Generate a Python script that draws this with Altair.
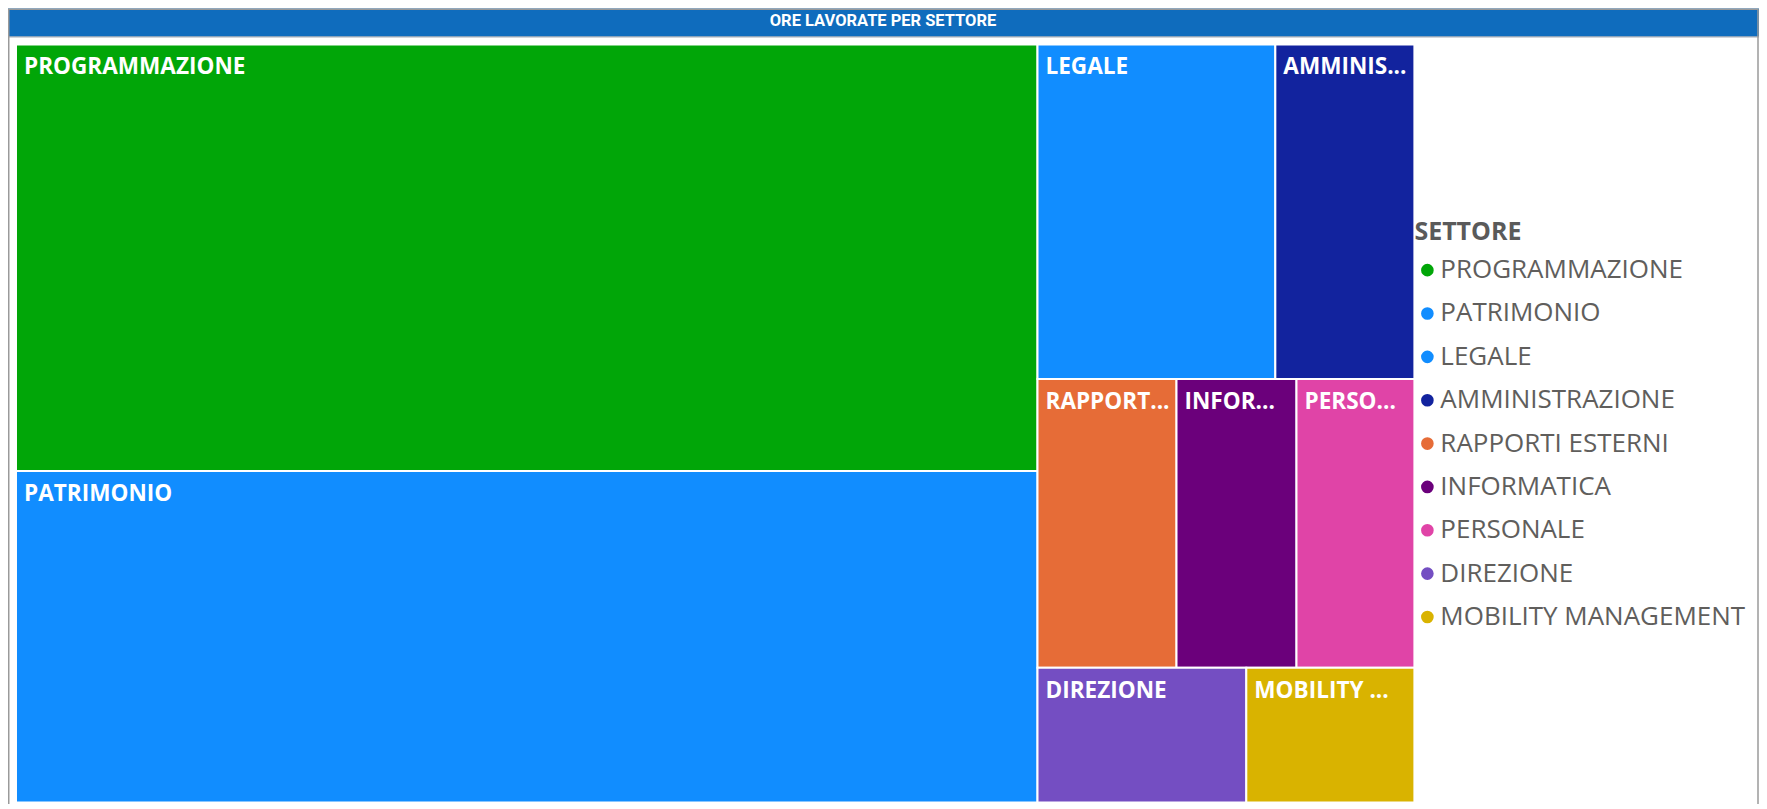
import altair as alt
import pandas as pd

# ---- data -------------------------------------------------------------
settori = ["PROGRAMMAZIONE", "PATRIMONIO", "LEGALE", "AMMINISTRAZIONE",
           "RAPPORTI ESTERNI", "INFORMATICA", "PERSONALE", "DIREZIONE",
           "MOBILITY MANAGEMENT"]
ore = [4364, 3393, 797, 466, 402, 347, 341, 282, 227]
colori = ["#01A608", "#118DFF", "#118DFF", "#12239E", "#E66C37",
          "#6B007B", "#E044A7", "#744EC2", "#D9B300"]
titolo = "ORE LAVORATE PER SETTORE"
titolo_legenda = "SETTORE"

# ---- layout constants -------------------------------------------------
CW, CH = 1753, 796          # whole chart
TW, TH = 1400, 759          # treemap extent (layout units = px)
TX, TY = 8, 36              # treemap offset inside chart


def squarify(values, x0, y0, x1, y1, ratio=(1 + 5 ** 0.5) / 2):
    """d3-style squarified treemap; the final row picks the squarer direction."""
    rects = [None] * len(values)
    n = len(values)
    i0 = 0
    value = float(sum(values))
    while i0 < n:
        dx, dy = x1 - x0, y1 - y0
        i1 = i0
        s = values[i1]
        i1 += 1
        mn = mx = s
        alpha = max(dy / dx, dx / dy) / (value * ratio)
        beta = s * s * alpha
        minr = max(mx / beta, beta / mn)
        while i1 < n:
            v = values[i1]
            s2 = s + v
            mn2, mx2 = min(mn, v), max(mx, v)
            beta = s2 * s2 * alpha
            nr = max(mx2 / beta, beta / mn2)
            if nr > minr:
                break
            s, mn, mx, minr = s2, mn2, mx2, nr
            i1 += 1
        row = list(range(i0, i1))
        last = i1 == n
        dice = dx < dy
        if last:
            def worst(d):
                out = 0
                for i in row:
                    if d:
                        w = dx * values[i] / s
                        out = max(out, w / dy, dy / w)
                    else:
                        h = dy * values[i] / s
                        out = max(out, h / dx, dx / h)
                return out
            dice = worst(True) <= worst(False)
        if dice:
            h = dy if last else dy * s / value
            cx = x0
            for i in row:
                w = dx * values[i] / s
                rects[i] = (cx, y0, cx + w, y0 + h)
                cx += w
            y0 += h
        else:
            w = dx if last else dx * s / value
            cy = y0
            for i in row:
                h = dy * values[i] / s
                rects[i] = (x0, cy, x0 + w, cy + h)
                cy += h
            x0 += w
        value -= s
        i0 = i1
    return rects


rects = squarify(ore, 0, 0, TW, TH)
df = pd.DataFrame({
    "settore": settori,
    "ore": ore,
    "x0": [r[0] for r in rects],
    "y0": [r[1] for r in rects],
    "x1": [r[2] for r in rects],
    "y1": [r[3] for r in rects],
})
df["lim"] = (df["x1"] - df["x0"]) * 0.91 - 2

xs = alt.Scale(domain=[0, TW], range=[TX, TX + TW])
ys = alt.Scale(domain=[0, TH], range=[TY, TY + TH])

base = alt.Chart(df)

celle = base.mark_rect(stroke="white", strokeWidth=2).encode(
    x=alt.X("x0:Q", scale=xs, axis=None),
    x2="x1:Q",
    y=alt.Y("y0:Q", scale=ys, axis=None),
    y2="y1:Q",
    color=alt.Color(
        "settore:N",
        scale=alt.Scale(domain=settori, range=colori),
        sort=settori,
        legend=alt.Legend(
            title=titolo_legenda, orient="none", legendX=1408, legendY=212,
            symbolType="circle", symbolSize=160, symbolStrokeWidth=0,
            symbolOffset=0, labelOffset=0,
            labelFont="Open Sans", labelFontSize=26, labelColor="#605E5C",
            titleFont="Open Sans", titleFontSize=25, titleFontWeight="bold",
            titleColor="#5A5A5A", rowPadding=17.4, titlePadding=12,
            padding=0, labelLimit=500,
        ),
    ),
    tooltip=["settore:N", "ore:Q"],
)

etichette = base.mark_text(
    align="left", baseline="alphabetic", dx=8, dy=30,
    font="Open Sans", fontSize=22.6, fontWeight="bold", color="white",
    limit=alt.expr("datum.lim"), ellipsis="...",
).encode(
    x=alt.X("x0:Q", scale=xs),
    y=alt.Y("y0:Q", scale=ys),
    text="settore:N",
)

tdf = pd.DataFrame({"t": [titolo]})
barra = alt.Chart(tdf).mark_rect(color="#0F6CBD").encode(
    x=alt.value(0), x2=alt.value(CW), y=alt.value(0), y2=alt.value(28)
)
barra_linea = alt.Chart(tdf).mark_rule(color="#8f9aa5", strokeWidth=1).encode(
    x=alt.value(0), x2=alt.value(CW), y=alt.value(28.5)
)
testo_titolo = alt.Chart(tdf).mark_text(
    font="Roboto", fontWeight="bold", fontSize=16.5, color="white",
    baseline="alphabetic", align="center",
).encode(x=alt.value(876), y=alt.value(17.5), text="t:N")

cornice = alt.Chart(tdf).mark_rect(
    filled=False, stroke="#9a9a9a", strokeWidth=1.5
).encode(x=alt.value(0.75), x2=alt.value(CW - 1), y=alt.value(0.75), y2=alt.value(CH + 10))

chart = alt.layer(barra, barra_linea, testo_titolo, celle, etichette, cornice).properties(
    width=CW, height=CH, padding=0,
    autosize=alt.AutoSizeParams(type="none"),
    background="white",
).configure_view(stroke=None)

chart.save("out.html", embed_options={"renderer": "svg", "actions": False})
